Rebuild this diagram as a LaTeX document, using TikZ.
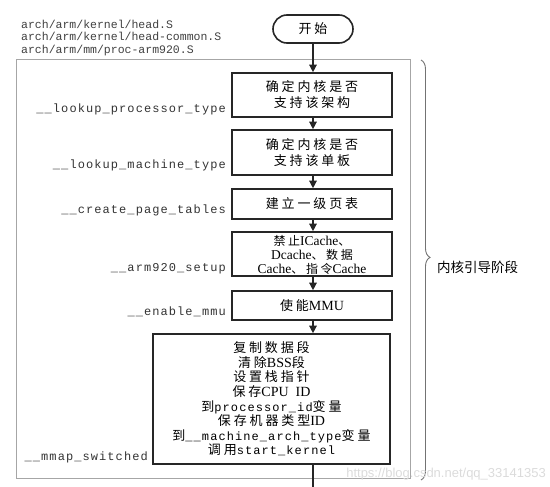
\documentclass[tikz,border=0pt]{standalone}
\usepackage{fontspec}
\setmainfont{Liberation Serif}
\newfontfamily\cjk[LetterSpace=22]{Noto Sans CJK SC}
\newfontfamily\cjkn{Noto Sans CJK SC}
\newfontfamily\mono{Liberation Mono}
\newfontfamily\lbl[LetterSpace=9]{Liberation Mono}
\newfontfamily\wm{Liberation Sans}
\usetikzlibrary{arrows.meta,decorations.pathreplacing}
\tikzset{
  stepbox/.style={draw=black!85, line width=1.6pt, minimum width=160pt, inner sep=0pt, align=center,
    font=\cjk\fontsize{13}{16}\selectfont},
  startbox/.style={draw=black!85, line width=1.6pt, rounded corners=14pt, minimum width=80pt, minimum height=28pt,
    inner sep=0pt, font=\cjk\fontsize{13}{16}\selectfont},
  flow/.style={line width=1.3pt, draw=black!85, -{Triangle[length=7.5pt,width=7.5pt]}},
  plain/.style={line width=1.3pt, draw=black!85},
  fnlabel/.style={anchor=base east, inner sep=0pt, font=\lbl\fontsize{12}{14}\selectfont, text=black!80},
  pathlabel/.style={anchor=base west, inner sep=0pt, font=\mono\fontsize{11.5}{13}\selectfont, text=black!75},
  frame/.style={draw=black!35, line width=0.8pt},
  bracestyle/.style={draw=black!55, line width=0.9pt, decorate, decoration={brace, amplitude=9pt, aspect=0.47}}
}
\begin{document}
\begin{tikzpicture}[x=1pt, y=-1pt]
\useasboundingbox (0,0) rectangle (550,487);
% frame
\draw[frame] (16,59) rectangle (410,478);
% file names
\node[pathlabel] (p1) at (21,28.5) {arch/arm/kernel/head.S};
\node[pathlabel] (p2) at (21,41) {arch/arm/kernel/head-common.S};
\node[pathlabel] (p3) at (21,53.5) {arch/arm/mm/proc-arm920.S};
% start
\node[startbox] (s) at (313,29) {开始};
% steps
\node[stepbox, minimum height=44pt] (b1) at (312,95) {确定内核是否\\支持该架构};
\node[stepbox, minimum height=45pt] (b2) at (312,152.5) {确定内核是否\\支持该单板};
\node[stepbox, minimum height=30pt] (b3) at (312,204) {建立一级页表};
\node[stepbox, minimum height=44pt] (b4) at (312,254) {};
\node[align=center, inner sep=0pt, font=\cjk\fontsize{12}{14.3}\selectfont] (b4t) at ([yshift=-0.8pt]b4.center)
  {禁止{\rmfamily\fontsize{13.5}{14.3}\selectfont ICache}、\\{\rmfamily\fontsize{13.5}{14.3}\selectfont Dcache}、数据\\{\rmfamily\fontsize{13.5}{14.3}\selectfont Cache}、指令{\rmfamily\fontsize{13.5}{14.3}\selectfont Cache}};
\node[stepbox, minimum height=29pt] (b5) at (312,305.5) {使能{\rmfamily\fontsize{14}{16}\selectfont MMU}};
\node[stepbox, minimum width=237pt, minimum height=130pt, font=\cjk\fontsize{13}{14.6}\selectfont] (b6) at (271.5,399)
  {复制数据段\\
   清除{\rmfamily\fontsize{14}{14.6}\selectfont BSS}段\\
   设置栈指针\\
   保存{\rmfamily\fontsize{14}{14.6}\selectfont CPU\ \ ID}\\
   到{\lbl\fontsize{12}{14.6}\selectfont processor\_id}变量\\
   保存机器类型{\rmfamily\fontsize{14}{14.6}\selectfont ID}\\
   到{\lbl\fontsize{12}{14.6}\selectfont \_\_machine\_arch\_type}变量\\
   调用{\lbl\fontsize{12}{14.6}\selectfont start\_kernel}};
\coordinate (end) at (313,487);
% connectors
\draw[flow] (s.south) -- (b1.north -| s.south);
\draw[flow] (b1.south -| s.south) -- (b2.north -| s.south);
\draw[flow] (b2.south -| s.south) -- (b3.north -| s.south);
\draw[flow] (b3.south -| s.south) -- (b4.north -| s.south);
\draw[flow] (b4.south -| s.south) -- (b5.north -| s.south);
\draw[flow] (b5.south -| s.south) -- (b6.north -| s.south);
\draw[plain] (b6.south -| s.south) -- (end);
% function labels
\node[fnlabel] (l1) at (226,113) {\_\_lookup\_processor\_type};
\node[fnlabel] (l2) at (226,168.5) {\_\_lookup\_machine\_type};
\node[fnlabel] (l3) at (226,213.5) {\_\_create\_page\_tables};
\node[fnlabel] (l4) at (226,272) {\_\_arm920\_setup};
\node[fnlabel] (l5) at (226,315.5) {\_\_enable\_mmu};
\node[fnlabel] (l6) at (148,460.5) {\_\_mmap\_switched};
% brace
\coordinate (bt) at (421,60);
\coordinate (bb) at (421,480);
\draw[bracestyle] (bt) -- (bb);
\node[anchor=west, inner sep=0pt, font=\cjkn\fontsize{13.5}{16}\selectfont] (stage) at (437,267) {内核引导阶段};
% watermark
\node[anchor=base east, inner sep=0pt, font=\wm\fontsize{13}{15}\selectfont, text=black!14] (wmk) at (546,477) {https://blog.csdn.net/qq\_33141353};
\end{tikzpicture}
\end{document}
